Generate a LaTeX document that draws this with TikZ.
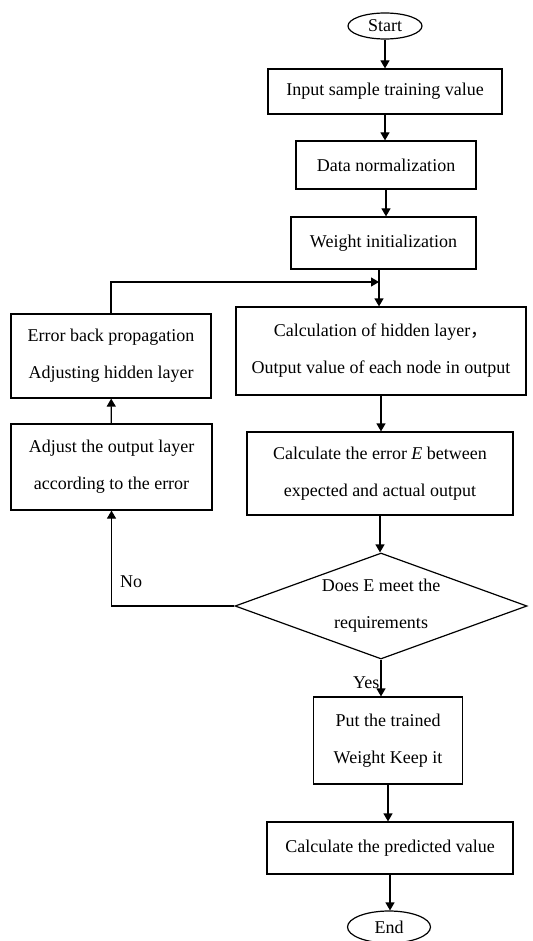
\documentclass[tikz,border=0pt]{standalone}
\usepackage{fontspec}
\setmainfont{Liberation Serif}
\newfontfamily\cjk{Noto Sans CJK SC}
\usetikzlibrary{shapes.geometric,arrows.meta}

\begin{document}
\begin{tikzpicture}[x=1pt,y=-1pt,
                    every node/.style={font=\fontsize{18}{37}\selectfont,align=center,inner sep=0pt},
                    box/.style={draw,line width=1.2pt,rectangle},
                    term/.style={draw,line width=1.2pt,ellipse},
                    decide/.style={draw,line width=1.2pt,diamond,aspect=2.75},
                    arr/.style={line width=1.2pt,-{Triangle[width=9pt,length=8pt]}}]
                    \useasboundingbox (0,0) rectangle (532,941);
                    % main column
                    \node[term,minimum width=74pt,minimum height=26pt] (start) at (385,26) {Start};
                    \node[box,minimum width=234pt,minimum height=45pt] (input) at (385,91.5) {Input sample training value};
                    \node[box,minimum width=180pt,minimum height=48pt] (norm) at (386,165) {Data normalization};
                    \node[box,minimum width=185pt,minimum height=52pt] (init) at (383.5,243) {Weight initialization};
                    \coordinate (join) at (379,282);
                    \node[box,minimum width=290pt,minimum height=88pt] (calc) at (381,351) {Calculation of hidden layer{\cjk ，}\\Output value of each node in output};
                    \node[box,minimum width=266pt,minimum height=83pt] (error) at (380,473.5) {Calculate the error \textit{E} between\\expected and actual output};
                    \node[decide,minimum width=292pt,minimum height=106pt] (check) at (381,606) {Does E meet the\\requirements};
                    \node[box,minimum width=149pt,minimum height=87pt] (keep) at (388,740.5) {Put the trained\\Weight Keep it};
                    \node[box,minimum width=246pt,minimum height=52pt] (pred) at (390,848) {Calculate the predicted value};
                    \node[term,minimum width=83pt,minimum height=32pt] (end) at (389,927) {End};
                    % left column
                    \node[box,minimum width=200pt,minimum height=84pt] (back) at (111,356) {Error back propagation\\Adjusting hidden layer};
                    \node[box,minimum width=201pt,minimum height=86pt] (adjust) at (111.5,467) {Adjust the output layer\\according to the error};
                    % arrows
                    \draw[arr] (start) -- (start |- input.north);
                    \draw[arr] (input) -- (input |- norm.north);
                    \draw[arr] (norm) -- (norm |- init.north);
                    \draw[arr] (init.south -| join) -- (calc.north -| join);
                    \draw[arr] (calc) -- (calc |- error.north);
                    \draw[arr] (error) -- (error |- check.north);
                    \draw[arr] (check) -- node[pos=0.63,left=1pt] {Yes} (check |- keep.north);
                    \draw[arr] (keep) -- (keep |- pred.north);
                    \draw[arr] (pred) -- (pred |- end.north);
                    \draw[arr] (check) -| node[pos=0.63,right=8pt] {No} (adjust);
                    \draw[arr] (adjust) -- (back);
                    \draw[arr] (back) |- (join);
                \end{tikzpicture}
\end{document}
